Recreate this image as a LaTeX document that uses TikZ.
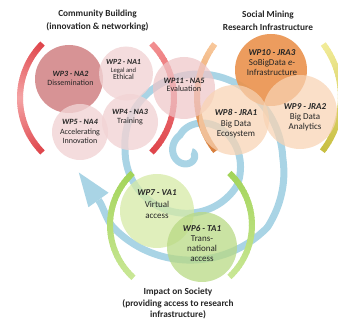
\documentclass[tikz,border=0pt]{standalone}
\usepackage{fontspec}
\setmainfont{Carlito}
\definecolor{spblue}{HTML}{A9D4E5}
\definecolor{redA}{HTML}{DF464C}
\definecolor{redB}{HTML}{F4A2A3}
\definecolor{redC}{HTML}{F28E90}
\definecolor{orA}{HTML}{F8C79A}
\definecolor{orB}{HTML}{D8803E}
\definecolor{yeA}{HTML}{F1EB98}
\definecolor{yeB}{HTML}{C8BF42}
\definecolor{grA}{HTML}{A3D45A}
\definecolor{grB}{HTML}{C9E795}
\definecolor{cwpthree}{HTML}{D48A8C}
\definecolor{cpink}{HTML}{F1D3D4}
\definecolor{cwpeleven}{HTML}{EFC6C8}
\definecolor{cwpten}{HTML}{EA9450}
\definecolor{cpeach}{HTML}{F8D3B3}
\definecolor{cwpseven}{HTML}{D6EAA6}
\definecolor{cwpsix}{HTML}{B8D984}
\definecolor{txt}{HTML}{262626}
% gradient arc: cx, cy, r, a1, a2, colour at a1, colour at a2
\newcommand{\gradarc}[7]{%
  \foreach \k in {0,...,29}{%
    \pgfmathsetmacro\sa{#4+(#5-#4)*\k/30}%
    \pgfmathsetmacro\ea{#4+(#5-#4)*min(\k+1.3,30)/30}%
    \pgfmathtruncatemacro\pc{100*\k/29}%
    \draw[line width=6pt, color=#7!\pc!#6] ([shift={(\sa:#3)}]#1,#2) arc[start angle=\sa, end angle=\ea, radius=#3];
  }}
\newcommand{\wpl}[1]{{\bfseries\itshape #1}}
\begin{document}
\begin{tikzpicture}[x=1pt,y=-1pt,
  declare function={rr(\x)=(\x<0)*(20+\x/270*17)
    +(\x>=0)*(\x<150)*(20+\x/150*38)
    +(\x>=150)*(\x<300)*(58+(\x-150)/150*6)
    +(\x>=300)*(\x<480)*(64+(\x-300)/180*30)
    +(\x>=480)*(\x<520)*(94+(\x-480)/40*14)
    +(\x>=520)*(108-(\x-520)/100*2);},
  wpc/.style={circle,inner sep=0pt,draw=none},
  wpt/.style={align=center,text=txt,inner sep=0pt},
  ttl/.style={align=center,text=txt,inner sep=0pt,font=\bfseries\fontsize{9.3}{13}\selectfont},
  spiral/.style={draw=spblue,line width=7pt}]
\useasboundingbox (0,0) rectangle (338,320);

% blue spiral with arrow head
\draw[spiral] plot[domain=-270:612,samples=260,smooth,variable=\x]
   ({189+rr(\x)*cos(116.6-\x)},{153-rr(\x)*sin(116.6-\x)})
   .. controls (106.4,220.5) and (103.7,207.3) .. (98.5,200);
\coordinate (tipbase) at (98.5,200);
\fill[spblue] (78.8,172.5) -- (108.6,192.75) -- (88.4,207.25) -- cycle;

% brackets
\gradarc{97}{98}{77}{225}{180}{redA}{redB}
\gradarc{97}{98}{77}{180}{135}{redB}{redA}
\gradarc{97}{98}{77}{-45}{45}{redC}{redA}
\gradarc{285}{97}{88}{217}{142}{orA}{orB}
\gradarc{253}{97}{88}{-37}{38}{yeA}{yeB}
\gradarc{181}{225}{71}{227}{132}{grA}{grB}
\gradarc{181}{225}{71}{-47}{47}{grA}{grB}

% community building circles
\node[wpc,fill=cwpthree,fill opacity=0.92,minimum size=68pt] (wp3) at (69,79) {};
\node[wpc,fill=cpink,fill opacity=0.8,minimum size=54pt] (wp2) at (126,73.5) {};
\node[wpc,fill=cpink,fill opacity=0.8,minimum size=56pt] (wp4) at (130,122) {};
\node[wpc,fill=cpink,fill opacity=0.8,minimum size=56pt] (wp5) at (80,132) {};
\node[wpc,fill=cwpeleven,fill opacity=0.72,minimum size=62pt] (wp11) at (184,88) {};
% research infrastructure circles
\node[wpc,fill=cwpten,fill opacity=0.92,minimum size=72pt] (wp10) at (271,70) {};
\node[wpc,fill=cpeach,fill opacity=0.72,minimum size=70pt] (wp8) at (234,120) {};
\node[wpc,fill=cpeach,fill opacity=0.72,minimum size=74pt] (wp9) at (300,112) {};
% impact circles
\node[wpc,fill=cwpseven,fill opacity=0.75,minimum size=74pt] (wp7) at (157,211) {};
\node[wpc,fill=cwpsix,fill opacity=0.75,minimum size=70pt] (wp6) at (202,247) {};

% labels
\node[wpt,font=\fontsize{8}{8.6}\selectfont] (t3) at (70.5,78.5) {\wpl{WP3 - NA2}\\Dissemination};
\node[wpt,font=\fontsize{7.8}{7.8}\selectfont] (t2) at (123.5,69.5) {\wpl{WP2 - NA1}\\\fontsize{6.6}{7.6}\selectfont Legal and\\Ethical};
\node[wpt,font=\fontsize{8}{8.6}\selectfont] (t4) at (130,117) {\wpl{WP4 - NA3}\\Training};
\node[wpt,font=\fontsize{8}{9.6}\selectfont] (t5) at (80,131.5) {\wpl{WP5 - NA4}\\Accelerating\\Innovation};
\node[wpt,font=\fontsize{8.2}{8.6}\selectfont] (t11) at (184,85) {\wpl{WP11 - NA5}\\Evaluation};
\node[wpt,font=\fontsize{9}{10}\selectfont] (t10) at (272,63) {\wpl{WP10 - JRA3}\\SoBigData \textit{e}-\\Infrastructure};
\node[wpt,font=\fontsize{9}{10.5}\selectfont] (t8) at (236,124) {\wpl{WP8 - JRA1}\\Big Data\\Ecosystem};
\node[wpt,font=\fontsize{9}{10}\selectfont] (t9) at (305,117) {\wpl{WP9 - JRA2}\\Big Data\\Analytics};
\node[wpt,font=\fontsize{9}{11.5}\selectfont] (t7) at (157,204.5) {\wpl{WP7 - VA1}\\Virtual\\access};
\node[wpt,font=\fontsize{9}{10}\selectfont] (t6) at (202,243) {\wpl{WP6 - TA1}\\Trans-\\national\\access};

% titles
\node[ttl] (ttlA) at (97.5,20.5) {Community Building\\(innovation \& networking)};
\node[ttl] (ttlB) at (268,20.5) {Social Mining\\Research Infrastructure};
\node[ttl,font=\bfseries\fontsize{9.3}{11.8}\selectfont] (ttlC) at (178,303.5) {Impact on Society\\(providing access to research\\infrastructure)};
\end{tikzpicture}
\end{document}
